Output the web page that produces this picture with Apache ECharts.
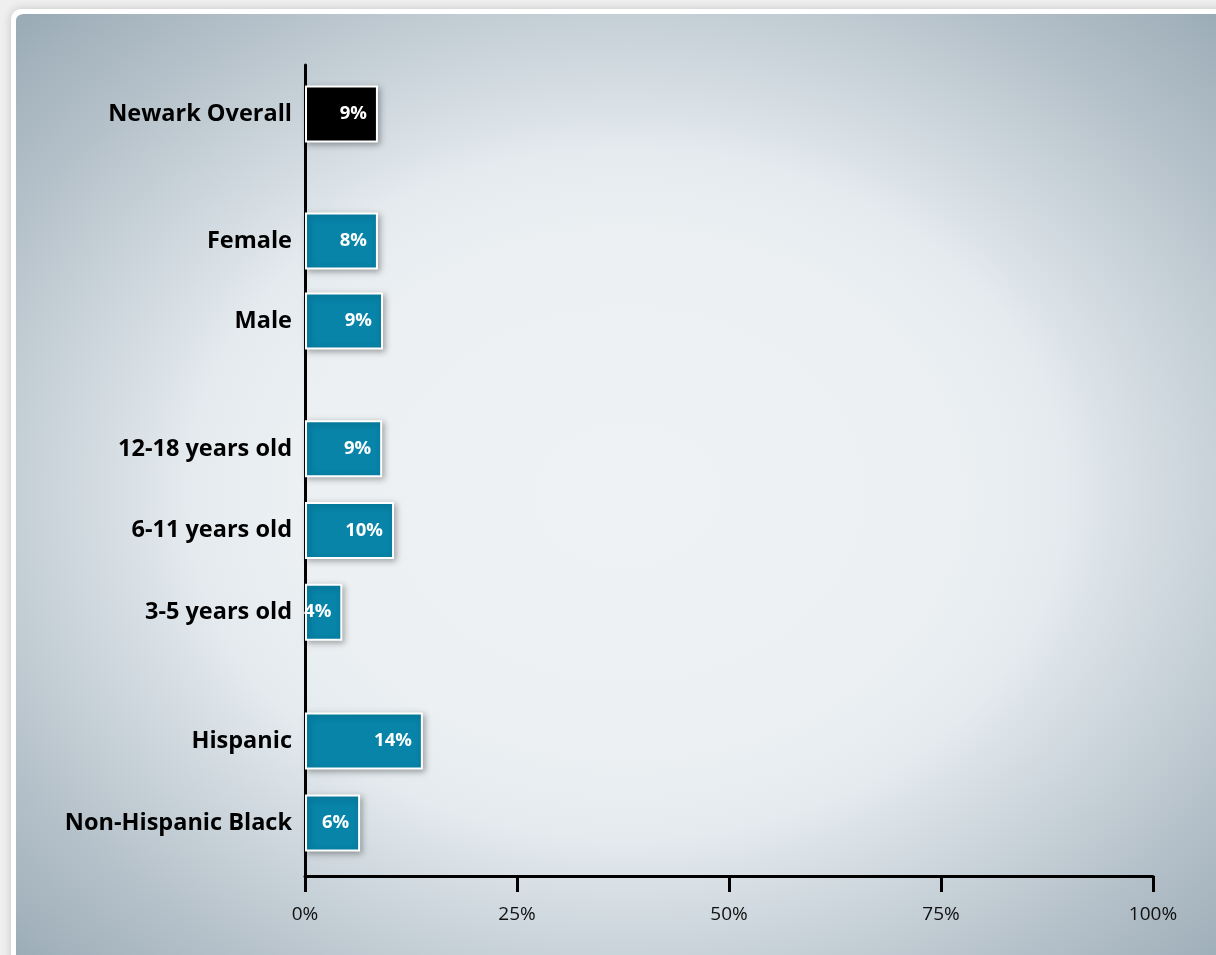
<!DOCTYPE html>
<html>
<head>
<meta charset="utf-8">
<script src="https://cdn.jsdelivr.net/npm/echarts@6/dist/echarts.min.js"></script>
<style>
html,body{margin:0;padding:0;background:#efefef;}
#chart{width:1216px;height:955px;}
</style>
</head>
<body>
<div id="chart"></div>
<script>
// ---- data ----
const categories = ['Newark Overall','Female','Male','12-18 years old','6-11 years old','3-5 years old','Hispanic','Non-Hispanic Black'];
const values = [8.6, 8.6, 9.2, 9.1, 10.5, 4.4, 13.9, 6.5];
const valueLabels = ['9%','8%','9%','9%','10%','4%','14%','6%'];
const groupOf = [0, 1, 1, 2, 2, 2, 3, 3];
const barColors = ['#000000','#0784a8','#0784a8','#0784a8','#0784a8','#0784a8','#0784a8','#0784a8'];
const tickValues = [0, 25, 50, 75, 100];
const tickLabels = ['0%','25%','50%','75%','100%'];

// ---- layout ----
const plotLeft = 305, plotRight = 63;
const groupBoxes = [
  {top: 73, height: 82},
  {top: 201, height: 160},
  {top: 408, height: 245},
  {top: 700, height: 164}
];

const chart = echarts.init(document.getElementById('chart'));

const grids = [{left: plotLeft, right: plotRight, top: 65, bottom: 79}];
const xAxes = [{
  gridIndex: 0, type: 'value', min: 0, max: 100, interval: 25,
  axisLine: {show: true, lineStyle: {color: '#000', width: 3}},
  axisTick: {show: true, length: 16, lineStyle: {color: '#000', width: 3}},
  splitLine: {show: false},
  axisLabel: {
    margin: 29, color: '#111', fontSize: 19, fontFamily: 'Open Sans',
    formatter: v => tickLabels[tickValues.indexOf(v)] ?? ''
  }
}];
const yAxes = [{
  gridIndex: 0, type: 'value', min: 0, max: 1,
  axisLine: {show: true, onZero: false, lineStyle: {color: '#000', width: 3}},
  axisTick: {show: false}, axisLabel: {show: false}, splitLine: {show: false}
}];
const series = [];

groupBoxes.forEach((box, g) => {
  const gi = g + 1;
  const idx = categories.map((c, i) => i).filter(i => groupOf[i] === g);
  grids.push({left: plotLeft, right: plotRight, top: box.top, height: box.height});
  xAxes.push({
    gridIndex: gi, type: 'value', min: 0, max: 100,
    axisLine: {show: false}, axisTick: {show: false}, axisLabel: {show: false}, splitLine: {show: false}
  });
  yAxes.push({
    gridIndex: gi, type: 'category', inverse: true,
    data: idx.map(i => categories[i]),
    axisLine: {show: false}, axisTick: {show: false}, splitLine: {show: false},
    axisLabel: {margin: 13, color: '#000', fontSize: 23.5, fontWeight: 'bold', fontFamily: 'Open Sans'}
  });
  series.push({
    type: 'bar', xAxisIndex: gi, yAxisIndex: gi, barWidth: 57,
    data: idx.map(i => ({
      value: values[i],
      itemStyle: {color: barColors[i]},
      label: {formatter: valueLabels[i]}
    })),
    itemStyle: {
      borderColor: '#ffffff', borderWidth: 2,
      shadowBlur: 6, shadowColor: 'rgba(0,0,0,0.3)', shadowOffsetX: 2, shadowOffsetY: 2
    },
    label: {
      show: true, position: 'insideRight', distance: 11,
      color: '#fff', fontSize: 18.5, fontWeight: 'bold', fontFamily: 'Open Sans'
    },
    silent: true
  });
});

chart.setOption({
  animation: false,
  backgroundColor: '#efefef',
  graphic: [
    {
      type: 'rect', z: -10, silent: true,
      shape: {x: 11, y: 9, width: 1230, height: 970, r: 10},
      style: {fill: '#ffffff', shadowBlur: 10, shadowColor: 'rgba(0,0,0,0.18)'}
    },
    {
      type: 'rect', z: -9, silent: true,
      x: 16, y: 14, scaleX: 1220 / 960,
      shape: {x: 0, y: 0, width: 960, height: 960, r: [6, 0, 0, 0]},
      style: {
        fill: new echarts.graphic.RadialGradient(0.5, 0.5, 0.72, [
          {offset: 0, color: '#eef2f5'},
          {offset: 0.38, color: '#ecf0f3'},
          {offset: 0.5, color: '#e4eaee'},
          {offset: 0.62, color: '#d0d9df'},
          {offset: 0.75, color: '#bcc7cf'},
          {offset: 1, color: '#97a8b3'}
        ])
      }
    }
  ],
  grid: grids,
  xAxis: xAxes,
  yAxis: yAxes,
  series: series
});
</script>
</body>
</html>
